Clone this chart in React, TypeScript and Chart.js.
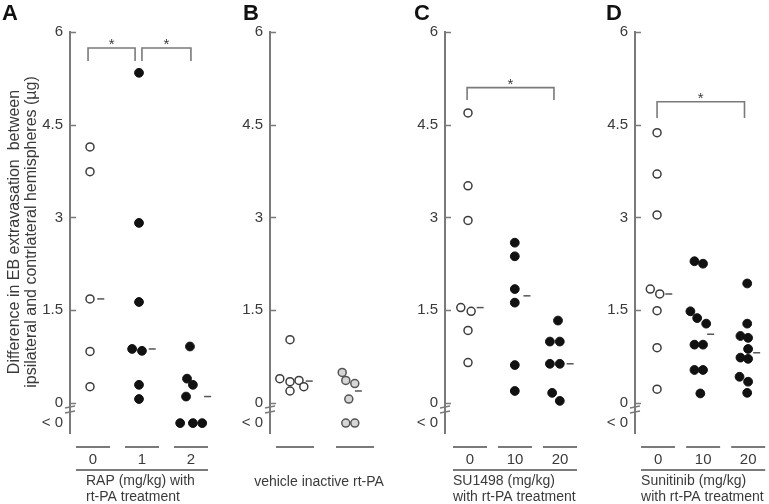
import React, { useEffect, useRef } from 'react';
import { Chart, registerables } from 'chart.js';
Chart.register(...registerables);

// value used to place the "< 0" category under the axis break
const LT0 = -0.33;
const Y_TICKS = [LT0, 0, 1.5, 3, 4.5, 6];
const Y_MIN = -0.49;
const Y_MAX = 6;

// ---------- Panel A : RAP ----------
const A_groupLabels = ['0', '1', '2'];
const A_dose0 = [4.14, 3.74, 1.68, 0.83, 0.26];
const A_dose0_jitter = [0, 0, 0, 0, 0];
const A_dose1 = [5.34, 2.91, 1.63, 0.87, 0.84, 0.29, 0.06];
const A_dose1_jitter = [0, 0, 0, -0.14, 0.06, 0, 0];
const A_dose2 = [0.91, 0.39, 0.29, 0.1, LT0, LT0, LT0];
const A_dose2_jitter = [0.04, -0.02, 0.1, -0.04, -0.16, 0.1, 0.29];
const A_medians = [1.68, 0.87, 0.1];
const A_median_jitter = [0.22, 0.27, 0.4];
const A_sigSpans = [[0.96, 1.92], [2.06, 3.06]];
const A_sigTop = [5.74, 5.74];
const A_sigLeg = [5.53, 5.53];

// ---------- Panel B : vehicle / inactive rt-PA ----------
const B_groupLabels = ['', ''];
const B_vehicle = [1.02, 0.39, 0.34, 0.36, 0.26, 0.19];
const B_vehicle_jitter = [0, -0.17, 0, 0.15, 0.23, 0];
const B_inactive = [0.49, 0.36, 0.31, 0.06, LT0, LT0];
const B_inactive_jitter = [-0.13, -0.07, 0.08, -0.02, -0.07, 0.08];
const B_medians = [0.35, 0.19];
const B_median_jitter = [0.32, 0.14];

// ---------- Panel C : SU1498 ----------
const C_groupLabels = ['0', '10', '20'];
const C_dose0 = [4.69, 3.51, 2.95, 1.54, 1.48, 1.17, 0.65];
const C_dose0_jitter = [0, 0, 0, -0.16, 0.07, 0, 0];
const C_dose10 = [2.59, 2.37, 1.84, 1.62, 0.61, 0.19];
const C_dose10_jitter = [0.04, 0.04, 0.04, 0.04, 0.04, 0.04];
const C_dose20 = [1.33, 0.99, 0.99, 0.63, 0.63, 0.16, 0.03];
const C_dose20_jitter = [0, -0.18, 0.04, -0.18, 0.04, -0.13, 0.04];
const C_medians = [1.54, 1.73, 0.63];
const C_median_jitter = [0.27, 0.31, 0.27];
const C_sigSpans = [[0.98, 2.91]];
const C_sigTop = [5.1];
const C_sigLeg = [4.9];

// ---------- Panel D : Sunitinib ----------
const D_groupLabels = ['0', '10', '20'];
const D_dose0 = [4.37, 3.7, 3.04, 1.84, 1.76, 1.49, 0.89, 0.22];
const D_dose0_jitter = [0, 0, 0, -0.15, 0.06, 0, 0, 0];
const D_dose10 = [2.29, 2.25, 1.48, 1.37, 1.28, 0.94, 0.94, 0.53, 0.53, 0.15];
const D_dose10_jitter = [-0.17, 0.02, -0.26, -0.11, 0.09, -0.17, 0.02, -0.17, 0.02, -0.04];
const D_dose20 = [1.93, 1.28, 1.08, 1.05, 0.87, 0.73, 0.71, 0.42, 0.34, 0.16];
const D_dose20_jitter = [0, 0, -0.15, 0.02, 0.02, -0.15, 0.02, -0.17, 0.02, 0];
const D_medians = [1.76, 1.11, 0.81];
const D_median_jitter = [0.26, 0.19, 0.21];
const D_sigSpans = [[1.0, 2.94]];
const D_sigTop = [4.87];
const D_sigLeg = [4.61];

const Y_TITLE = ['Difference in EB extravasation  between', 'ipsilateral and contrlateral hemispheres (\u00b5g)'];

// ---------- styles ----------
const FONT = '"Liberation Sans", Arial, Helvetica, sans-serif';
const AXIS_GRAY = '#7a7a7a';
const TEXT = '#3a3a3a';
const W = 769;
const H = 504;
const YW = 45;

const OPEN = { pointStyle: 'circle', pointRadius: 4, pointBackgroundColor: '#fff', pointBorderColor: '#3c3c3c', pointBorderWidth: 1.5 };
const FILLED = { pointStyle: 'circle', pointRadius: 4.4, pointBackgroundColor: '#111', pointBorderColor: '#111', pointBorderWidth: 1 };
const GRAYC = { pointStyle: 'circle', pointRadius: 4, pointBackgroundColor: '#d6d6d6', pointBorderColor: '#555', pointBorderWidth: 1.5 };

function dots(group: number, vals: number[], jit: number[], style: any) {
  return { data: vals.map((v, i) => ({ x: group + jit[i], y: v })), showLine: false, ...style };
}
function medianDashes(meds: number[], jit: number[]) {
  return {
    data: meds.map((v, i) => ({ x: i + 1 + jit[i], y: v })),
    showLine: false,
    pointStyle: 'line',
    pointRadius: 3.5,
    pointBorderColor: '#555',
    pointBorderWidth: 1.5,
  };
}
function brackets(spans: number[][], tops: number[], legs: number[]) {
  return spans.map((s, i) => ({
    data: [
      { x: s[0], y: legs[i] },
      { x: s[0], y: tops[i] },
      { x: s[1], y: tops[i] },
      { x: s[1], y: legs[i] },
    ],
    showLine: true,
    borderColor: AXIS_GRAY,
    borderWidth: 1.6,
    pointRadius: 0,
    fill: false,
  }));
}

const decoPlugin = {
  id: 'panelDeco',
  afterDraw(chart: any, _args: any, o: any) {
    const { ctx, chartArea } = chart;
    const x = chart.scales.x;
    const y = chart.scales.y;
    const left = chartArea.left;
    ctx.save();
    // inward tick marks
    ctx.strokeStyle = AXIS_GRAY;
    ctx.lineWidth = 1.5;
    Y_TICKS.forEach((v) => {
      if (v === LT0) return;
      const py = Math.round(y.getPixelForValue(v)) + 0.5;
      ctx.beginPath();
      ctx.moveTo(left, py);
      ctx.lineTo(left + 6, py);
      ctx.stroke();
    });
    // axis break
    [-0.07, -0.15].forEach((v) => {
      const py = y.getPixelForValue(v);
      ctx.beginPath();
      ctx.moveTo(left - 5, py + 1);
      ctx.lineTo(left + 5, py - 1);
      ctx.stroke();
    });
    // significance stars
    ctx.fillStyle = TEXT;
    ctx.font = '15px ' + FONT;
    ctx.textAlign = 'center';
    ctx.textBaseline = 'middle';
    (o.sigSpans || []).forEach((s: number[], i: number) => {
      const cx = x.getPixelForValue((s[0] + s[1]) / 2);
      const cy = y.getPixelForValue(o.sigTop[i]) - 3;
      ctx.fillText('*', cx, cy);
    });
    // panel letter
    ctx.font = 'bold 22px ' + FONT;
    ctx.fillStyle = '#111';
    ctx.textAlign = 'left';
    ctx.textBaseline = 'alphabetic';
    ctx.fillText(o.letter, o.letterX, 20);
    // group underlines and labels
    const bottom = chartArea.bottom;
    const labels: string[] = o.groupLabels;
    ctx.strokeStyle = AXIS_GRAY;
    ctx.lineWidth = 2;
    let first = 0;
    let last = 0;
    labels.forEach((lab, i) => {
      const c = x.getPixelForValue(i + 1) + o.shift;
      const l = c - o.half;
      const r = c + o.half;
      if (i === 0) first = l;
      last = r;
      ctx.beginPath();
      ctx.moveTo(l, bottom + 14);
      ctx.lineTo(r, bottom + 14);
      ctx.stroke();
      if (lab) {
        ctx.fillStyle = TEXT;
        ctx.font = '15px ' + FONT;
        ctx.textAlign = 'center';
        ctx.textBaseline = 'middle';
        ctx.fillText(lab, c, bottom + 27);
      }
    });
    if (o.longLine) {
      ctx.beginPath();
      ctx.moveTo(first, bottom + 37);
      ctx.lineTo(last, bottom + 37);
      ctx.stroke();
    }
    // caption
    ctx.fillStyle = TEXT;
    ctx.font = '14px ' + FONT;
    ctx.textBaseline = 'middle';
    if (o.captionCenter) {
      ctx.textAlign = 'center';
      o.caption.forEach((t: string, i: number) => ctx.fillText(t, (first + last) / 2 + o.captionIndent, bottom + 49 + i * 16));
    } else {
      ctx.textAlign = 'left';
      o.caption.forEach((t: string, i: number) => ctx.fillText(t, first + o.captionIndent, bottom + 48 + i * 16));
    }
    // y-axis title
    if (o.yTitle) {
      ctx.font = '16px ' + FONT;
      ctx.fillStyle = TEXT;
      ctx.textAlign = 'center';
      ctx.textBaseline = 'middle';
      o.yTitle.forEach((t: string, i: number) => {
        ctx.save();
        ctx.translate(15 + i * 17, 232);
        ctx.rotate(-Math.PI / 2);
        ctx.fillText(t, 0, 0);
        ctx.restore();
      });
    }
    ctx.restore();
  },
};

function makeConfig(p: any) {
  const xMin = 1 - (p.g1 - p.axisX) / p.spacing;
  const xMax = xMin + (p.rightX - p.axisX) / p.spacing;
  return {
    type: 'scatter',
    data: { datasets: p.datasets },
    options: {
      animation: false,
      responsive: false,
      events: [],
      layout: { padding: { left: p.axisX - YW, right: W - p.rightX, top: 32, bottom: 71 } },
      plugins: { legend: { display: false }, tooltip: { enabled: false }, panelDeco: p.deco },
      scales: {
        x: { type: 'linear', display: false, min: xMin, max: xMax },
        y: {
          type: 'linear',
          min: Y_MIN,
          max: Y_MAX,
          afterFit: (s: any) => {
            s.width = YW;
          },
          afterBuildTicks: (s: any) => {
            s.ticks = Y_TICKS.map((v) => ({ value: v }));
          },
          grid: { display: false, drawTicks: false },
          border: { display: true, color: AXIS_GRAY, width: 2 },
          ticks: {
            padding: 7,
            color: TEXT,
            font: { family: FONT, size: 15 },
            callback: (v: number) => (v === LT0 ? '< 0' : String(v)),
          },
        },
      },
    },
    plugins: [decoPlugin],
  };
}

const panels = [
  {
    axisX: 70, rightX: 222, g1: 90, spacing: 49,
    datasets: [
      dots(1, A_dose0, A_dose0_jitter, OPEN),
      dots(2, A_dose1, A_dose1_jitter, FILLED),
      dots(3, A_dose2, A_dose2_jitter, FILLED),
      medianDashes(A_medians, A_median_jitter),
      ...brackets(A_sigSpans, A_sigTop, A_sigLeg),
    ],
    deco: {
      letter: 'A', letterX: 2, groupLabels: A_groupLabels, shift: 3, half: 17, longLine: true,
      caption: ['RAP (mg/kg) with', 'rt-PA treatment'], captionIndent: 10,
      sigSpans: A_sigSpans, sigTop: A_sigTop, yTitle: Y_TITLE,
    },
  },
  {
    axisX: 270, rightX: 380, g1: 290, spacing: 60,
    datasets: [
      dots(1, B_vehicle, B_vehicle_jitter, OPEN),
      dots(2, B_inactive, B_inactive_jitter, GRAYC),
      medianDashes(B_medians, B_median_jitter),
    ],
    deco: {
      letter: 'B', letterX: 243, groupLabels: B_groupLabels, shift: 5, half: 19, longLine: false,
      caption: ['vehicle inactive rt-PA'], captionCenter: true, captionIndent: -6,
      sigSpans: [], sigTop: [],
    },
  },
  {
    axisX: 445, rightX: 590, g1: 468, spacing: 45,
    datasets: [
      dots(1, C_dose0, C_dose0_jitter, OPEN),
      dots(2, C_dose10, C_dose10_jitter, FILLED),
      dots(3, C_dose20, C_dose20_jitter, FILLED),
      medianDashes(C_medians, C_median_jitter),
      ...brackets(C_sigSpans, C_sigTop, C_sigLeg),
    ],
    deco: {
      letter: 'C', letterX: 414, groupLabels: C_groupLabels, shift: 2, half: 17, longLine: true,
      caption: ['SU1498 (mg/kg)', 'with rt-PA treatment'], captionIndent: 0,
      sigSpans: C_sigSpans, sigTop: C_sigTop,
    },
  },
  {
    axisX: 635, rightX: 769, g1: 658, spacing: 47,
    datasets: [
      dots(1, D_dose0, D_dose0_jitter, OPEN),
      dots(2, D_dose10, D_dose10_jitter, FILLED),
      dots(3, D_dose20, D_dose20_jitter, FILLED),
      medianDashes(D_medians, D_median_jitter),
      ...brackets(D_sigSpans, D_sigTop, D_sigLeg),
    ],
    deco: {
      letter: 'D', letterX: 606, groupLabels: D_groupLabels, shift: 1, half: 17, longLine: true,
      caption: ['Sunitinib (mg/kg)', 'with rt-PA treatment'], captionIndent: 0,
      sigSpans: D_sigSpans, sigTop: D_sigTop,
    },
  },
];

function Panel({ p }: { p: any }) {
  const ref = useRef<HTMLCanvasElement | null>(null);
  useEffect(() => {
    if (!ref.current) return;
    const chart = new Chart(ref.current, makeConfig(p) as any);
    return () => chart.destroy();
  }, [p]);
  return (
    <canvas
      ref={ref}
      width={W}
      height={H}
      style={{ position: 'absolute', left: 0, top: 0, width: W, height: H }}
    />
  );
}

export default function App() {
  return (
    <div style={{ position: 'absolute', left: 0, top: 0, width: W, height: H, background: '#fff' }}>
      {panels.map((p, i) => (
        <Panel key={i} p={p} />
      ))}
    </div>
  );
}
